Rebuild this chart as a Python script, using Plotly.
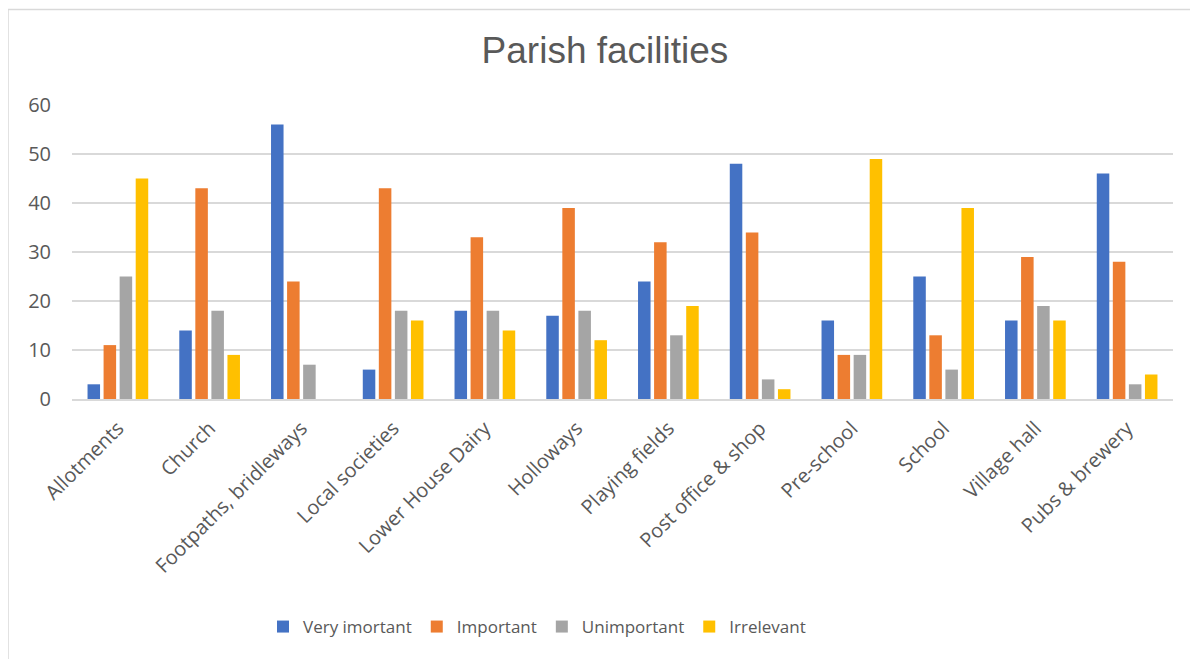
import plotly.graph_objects as go

categories = ["Allotments", "Church", "Footpaths, bridleways", "Local societies",
              "Lower House Dairy", "Holloways", "Playing fields", "Post office & shop",
              "Pre-school", "School", "Village hall", "Pubs & brewery"]
very_important = [3, 14, 56, 6, 18, 17, 24, 48, 16, 25, 16, 46]
important = [11, 43, 24, 43, 33, 39, 32, 34, 9, 13, 29, 28]
unimportant = [25, 18, 7, 18, 18, 18, 13, 4, 9, 6, 19, 3]
irrelevant = [45, 9, 0, 16, 14, 12, 19, 2, 49, 39, 16, 5]
series_names = ["Very imortant", "Important", "Unimportant", "Irrelevant"]
colors = ["#4472C4", "#ED7D31", "#A5A5A5", "#FFC000"]

fig = go.Figure()
for name, vals, c in zip(series_names, [very_important, important, unimportant, irrelevant], colors):
    fig.add_trace(go.Bar(x=categories, y=vals, name=name, marker=dict(color=c, line=dict(width=0))))

W, H = 1198, 659
OFF = 8  # page body offset of the rendered figure
L, T = 72 - OFF, 105 - OFF
PW, PH = 1101, 294
R = W - L - PW
B = H - T - PH

def px_x(p):
    return (p - OFF - L) / PW

def px_y(p):
    return (T + PH - (p - OFF)) / PH

fig.update_layout(
    width=W, height=H,
    margin=dict(l=L, r=R, t=T, b=B),
    paper_bgcolor="white", plot_bgcolor="white",
    barmode="group", bargap=0.3, bargroupgap=0.22,
    title=dict(text="Parish facilities", x=(605 - OFF) / W, xref="container", xanchor="center",
               y=1 - (50 - OFF) / H, yref="container", yanchor="middle",
               font=dict(family="Liberation Sans, Arial", size=37, color="#595959")),
    font=dict(family="Open Sans, Noto Sans", color="#595959"),
    xaxis=dict(tickangle=-45, tickfont=dict(size=20, color="#595959"), showgrid=False,
               showline=True, linecolor="#D9D9D9", linewidth=1.5, ticks="",
               ticklabelstandoff=8),
    yaxis=dict(range=[0, 60], dtick=10, showgrid=True, gridcolor="#D9D9D9", gridwidth=1.5,
               zeroline=False, tickfont=dict(size=20, color="#595959"), ticks="",
               ticklabelstandoff=20),
    legend=dict(orientation="h", x=px_x(537), xanchor="center", y=px_y(627), yanchor="middle",
                font=dict(size=17, color="#595959"), traceorder="normal"),
    showlegend=True,
)
fig.add_shape(type="line", xref="paper", yref="paper", x0=px_x(8), x1=px_x(8), y0=px_y(9.5), y1=px_y(670),
              line=dict(color="#D9D9D9", width=1.5))
fig.add_shape(type="line", xref="paper", yref="paper", x0=px_x(8), x1=px_x(1210), y0=px_y(9.5), y1=px_y(9.5),
              line=dict(color="#D9D9D9", width=1.5))

fig.write_html("out.html")
